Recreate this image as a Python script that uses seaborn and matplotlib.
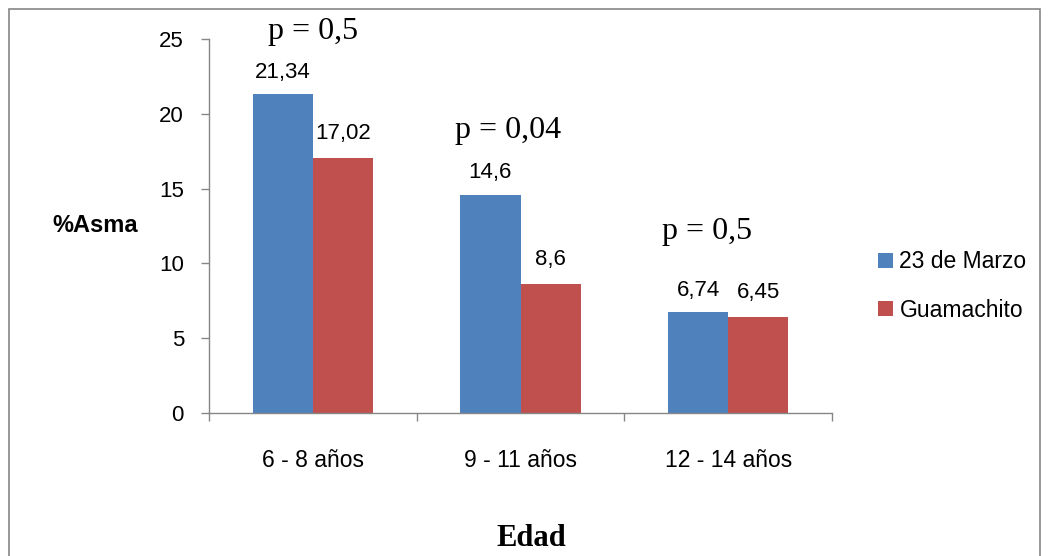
import matplotlib
matplotlib.use("Agg")
import matplotlib.pyplot as plt
import seaborn as sns
import pandas as pd
from matplotlib.patches import Rectangle

categories = ["6 - 8 años", "9 - 11 años", "12 - 14 años"]
series_names = ["23 de Marzo", "Guamachito"]
marzo = [21.34, 14.6, 6.74]
guamachito = [17.02, 8.6, 6.45]
marzo_labels = ["21,34", "14,6", "6,74"]
guama_labels = ["17,02", "8,6", "6,45"]
p_labels = ["p = 0,5", "p = 0,04", "p = 0,5"]
yticks = [0, 5, 10, 15, 20, 25]

df = pd.DataFrame({
    "Edad": categories * 2,
    "Valor": marzo + guamachito,
    "Grupo": [series_names[0]] * 3 + [series_names[1]] * 3,
})

sns.set_theme(style="white")
plt.rcParams["font.family"] = ["Liberation Sans", "DejaVu Sans"]
plt.rcParams["text.color"] = "black"
plt.rcParams["xtick.color"] = "black"
plt.rcParams["ytick.color"] = "black"

fig = plt.figure(figsize=(10.5, 5.56), dpi=100)
ax = fig.add_axes([209 / 1050, 1 - 413 / 556, (832 - 209) / 1050, (413 - 39) / 556])

palette = {series_names[0]: "#4F81BD", series_names[1]: "#C0504D"}
sns.barplot(data=df, x="Edad", y="Valor", hue="Grupo", palette=palette,
            width=0.58, gap=0, saturation=1, ax=ax, legend=True, linewidth=0)

ax.set_ylim(0, 25)
ax.set_xlim(-0.5, 2.5)
ax.set_yticks(yticks)
ax.set_yticklabels([str(v) for v in yticks], fontsize=16)
ax.set_xlabel("")
ax.set_ylabel("")
ax.tick_params(axis="x", which="major", length=0, pad=26, labelsize=16.5, labelcolor="black")
ax.set_xticks([-0.5, 0.5, 1.5, 2.5], minor=True)
ax.tick_params(axis="x", which="minor", bottom=True, length=6, color="#868686",
               width=1, direction="out")
ax.tick_params(axis="y", which="major", length=6, color="#868686", width=1,
               direction="out", pad=12, left=True, labelcolor="black")
for s in ["top", "right"]:
    ax.spines[s].set_visible(False)
for s in ["left", "bottom"]:
    ax.spines[s].set_color("#868686")
    ax.spines[s].set_linewidth(1)

# data labels
conts = ax.containers
ax.bar_label(conts[0], labels=marzo_labels, padding=8, fontsize=16, color="black")
ax.bar_label(conts[1], labels=guama_labels, padding=10, fontsize=16, color="black")

# p-value labels
p_x = [0.0, 0.94, 1.9]
p_y = [25.5, 18.9, 12.1]
for x, y, t in zip(p_x, p_y, p_labels):
    ax.text(x, y, t, ha="center", va="center", fontsize=23, color="black",
            family=["Liberation Serif", "DejaVu Serif"], clip_on=False)

# legend
handles, labels = ax.get_legend_handles_labels()
ax.legend_.remove()
fig.legend(handles, labels, loc="center left", bbox_to_anchor=(857 / 1050, 1 - 286 / 556),
           frameon=False, fontsize=16.5, handlelength=0.65, handleheight=0.65,
           handletextpad=0.3, labelspacing=1.1)

fig.text(95 / 1050, 1 - 226 / 556, "%Asma", ha="center", va="center",
         fontsize=17, fontweight="bold", color="black")
fig.text(531 / 1050, 1 - 538 / 556, "Edad", ha="center", va="center",
         fontsize=22, fontweight="bold", color="black",
         family=["Liberation Serif", "DejaVu Serif"])

fig.patches.append(Rectangle((9 / 1050, -0.1), (1040 - 9) / 1050, 1.1 - 9 / 556,
                             transform=fig.transFigure, fill=False,
                             edgecolor="#868686", linewidth=1.2))

fig.savefig("out.png", dpi=100, facecolor="white")
